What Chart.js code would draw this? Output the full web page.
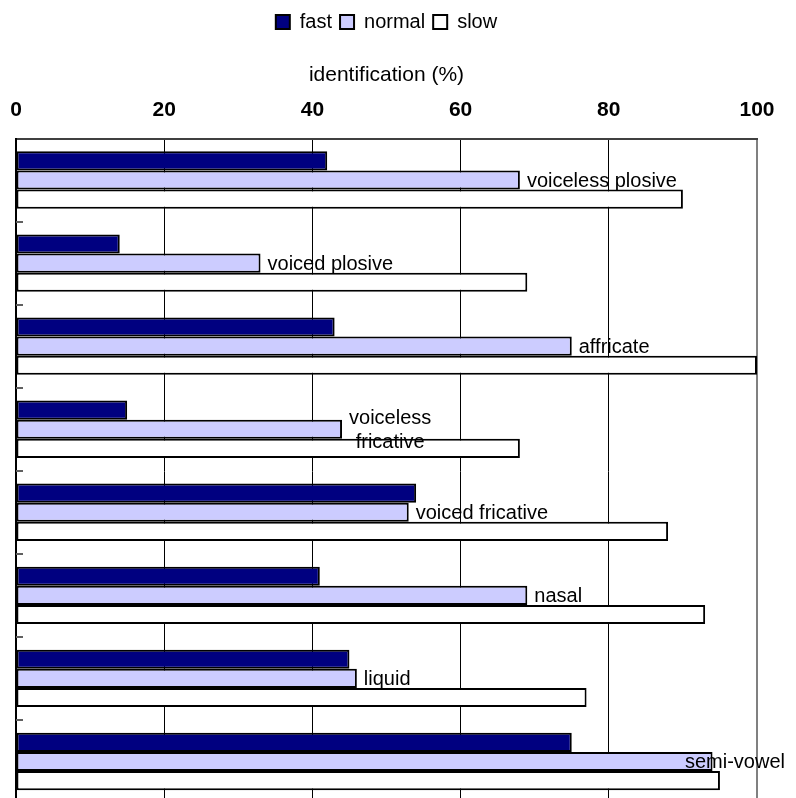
<!DOCTYPE html>
<html>
<head>
<meta charset="utf-8">
<script src="https://cdn.jsdelivr.net/npm/chart.js@4.4.1/dist/chart.umd.min.js"></script>
<style>
  html, body { margin: 0; padding: 0; background: #fff; overflow: hidden; }
  canvas { display: block; }
</style>
</head>
<body>
<canvas id="chart" width="796" height="803"></canvas>
<script>
// Consonant classes (multi-line entries are drawn on two lines)
const categories = [
  'voiceless plosive',
  'voiced plosive',
  'affricate',
  ['voiceless', 'fricative'],
  'voiced fricative',
  'nasal',
  'liquid',
  'semi-vowel'
];

// Identification rate (%) per speaking rate
const fastValues   = [42, 14, 43, 15, 54, 41, 45, 75];
const normalValues = [68, 33, 75, 44, 53, 69, 46, 94];
const slowValues   = [90, 69, 100, 68, 88, 93, 77, 95];

const xTicks = [0, 20, 40, 60, 80, 100];

const FONT = "'Liberation Sans', Arial, sans-serif";

// Writes each class name just past the end of its "normal" bar
const classLabels = {
  id: 'classLabels',
  afterDatasetsDraw(chart) {
    const ctx = chart.ctx;
    const meta = chart.getDatasetMeta(1);
    ctx.save();
    ctx.font = '20px ' + FONT;
    ctx.fillStyle = '#000';
    ctx.textBaseline = 'middle';
    ctx.textAlign = 'center';
    const lineH = 24;
    meta.data.forEach((bar, i) => {
      const lines = Array.isArray(categories[i]) ? categories[i] : [categories[i]];
      const w = Math.max(...lines.map(l => ctx.measureText(l).width));
      let left = bar.x + 7;
      const maxRight = chart.width - 11;
      if (left + w > maxRight) left = maxRight - w;
      const cy = bar.y + 1;
      lines.forEach((l, k) => {
        const y = cy + (k - (lines.length - 1) / 2) * lineH;
        ctx.fillText(l, left + w / 2, y);
      });
    });
    ctx.restore();
  }
};

// Short marks on the category axis between the groups
const categoryMarks = {
  id: 'categoryMarks',
  afterDatasetsDraw(chart) {
    const y = chart.scales.y;
    const ctx = chart.ctx;
    const left = chart.chartArea.left;
    const step = y.getPixelForValue(1) - y.getPixelForValue(0);
    ctx.save();
    ctx.strokeStyle = '#606060';
    ctx.lineWidth = 2;
    for (let i = 1; i < categories.length; i++) {
      const py = Math.round(y.getPixelForValue(i) - step / 2);
      ctx.beginPath();
      ctx.moveTo(left, py);
      ctx.lineTo(left + 7, py);
      ctx.stroke();
    }
    ctx.restore();
  }
};

new Chart(document.getElementById('chart'), {
  type: 'bar',
  data: {
    labels: categories,
    datasets: [
      { label: 'fast',   data: fastValues,   backgroundColor: '#000080', borderColor: '#000', borderWidth: 2, borderSkipped: false },
      { label: 'normal', data: normalValues, backgroundColor: '#CCCCFF', borderColor: '#000', borderWidth: 2, borderSkipped: false },
      { label: 'slow',   data: slowValues,   backgroundColor: '#FFFFFF', borderColor: '#000', borderWidth: 2, borderSkipped: false }
    ]
  },
  options: {
    indexAxis: 'y',
    responsive: false,
    devicePixelRatio: 1,
    animation: false,
    datasets: { bar: { categoryPercentage: 0.69, barPercentage: 1.0 } },
    layout: { padding: { top: 4, left: 16, right: 39, bottom: 0 } },
    plugins: {
      legend: {
        position: 'top',
        labels: {
          font: { family: FONT, size: 20 },
          color: '#000',
          boxWidth: 14,
          boxHeight: 14,
          padding: 8,
          useBorderRadius: false
        }
      },
      tooltip: { enabled: false }
    },
    scales: {
      x: {
        position: 'top',
        min: 0,
        max: 100,
        afterBuildTicks(scale) { scale.ticks = xTicks.map(v => ({ value: v })); },
        afterFit(scale) {
          scale.height = 96.5;
          scale.paddingLeft = 0;
          scale.paddingRight = 0;
        },
        ticks: {
          font: { family: FONT, size: 21, weight: 'bold' },
          color: '#000',
          padding: 16,
          maxRotation: 0
        },
        grid: {
          drawTicks: false,
          color: ctx => (ctx.tick && ctx.tick.value === 100) ? '#808080' : '#000',
          lineWidth: ctx => (ctx.tick && ctx.tick.value === 100) ? 2 : 1
        },
        border: { display: true, color: '#404040', width: 2 },
        title: {
          display: true,
          text: 'identification (%)',
          font: { family: FONT, size: 21 },
          color: '#000',
          padding: { top: 21, bottom: 4 }
        }
      },
      y: {
        type: 'category',
        ticks: { display: false },
        grid: { display: false, drawTicks: false },
        border: { display: true, color: '#000', width: 2 },
        afterFit(scale) { scale.width = 0; }
      }
    }
  },
  plugins: [classLabels, categoryMarks]
});
</script>
</body>
</html>
